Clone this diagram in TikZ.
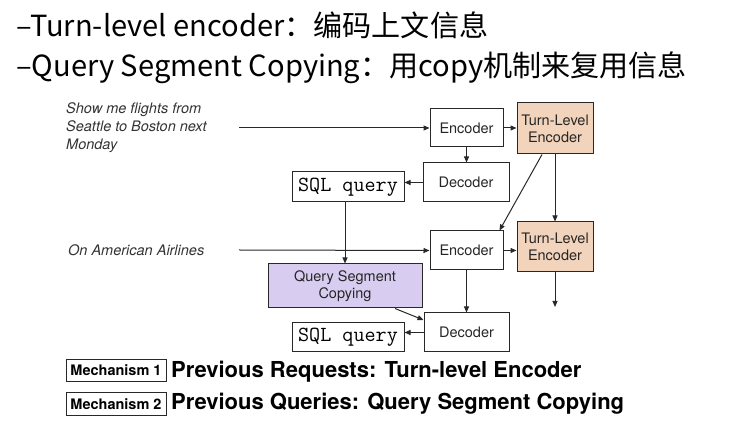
\documentclass[tikz,border=0pt]{standalone}
\usepackage{fontspec}
\setmainfont{TeX Gyre Heros}
\newfontfamily\cjk{Noto Sans CJK SC}
\usetikzlibrary{arrows.meta,calc}
\definecolor{peach}{RGB}{242,211,187}
\definecolor{lav}{RGB}{216,205,240}
\definecolor{edge}{RGB}{40,40,40}
\tikzset{
  box/.style={draw=edge,line width=1pt,inner sep=0pt,align=center,font=\fontsize{14.5}{17}\selectfont,text=black!85},
  sqlbox/.style={draw=edge,line width=1pt,inner sep=0pt,font=\fontsize{21.5}{22}\ttfamily},
  arr/.style={-{Triangle[length=6pt,width=5pt]},line width=1pt,draw=edge},
  said/.style={font=\fontsize{14.5}{18}\selectfont\itshape,align=left,anchor=west,inner sep=0pt,text=black!80},
  head/.style={font=\fontsize{29.1}{30}\cjk,anchor=base west,inner sep=0pt},
  mech/.style={draw=edge,line width=1pt,inner sep=0pt,minimum width=100pt,font=\fontsize{14.5}{15}\bfseries},
  bold/.style={font=\fontsize{22}{23}\bfseries,anchor=west,inner sep=0pt}
}
\begin{document}
\begin{tikzpicture}[x=1pt,y=-1pt]
\useasboundingbox (0,0) rectangle (745,427);
% headings
\node[head] (h1) at (16,37) {–Turn-level encoder：编码上文信息};
\node[head] (h2) at (16,77) {–Query Segment Copying：用copy机制来复用信息};
% utterances
\node[said] (u1) at (66,128) {Show me flights from\\Seattle to Boston next\\Monday};
\node[said] (u2) at (68,250) {On American Airlines};
\coordinate (s1) at (239,128);
\coordinate (s2) at (239,250);
% boxes
\node[box,minimum width=73pt,minimum height=38pt] (enc1) at (466.5,128) {Encoder};
\node[box,fill=peach,minimum width=76pt,minimum height=51pt] (tle1) at (555,128.5) {Turn-Level\\Encoder};
\node[box,minimum width=86pt,minimum height=39pt] (dec1) at (466,182.5) {Decoder};
\node[sqlbox,minimum width=112pt,minimum height=30pt] (sql1) at (348,187) {SQL query};
\node[box,minimum width=73pt,minimum height=39pt] (enc2) at (466.5,250.5) {Encoder};
\node[box,fill=peach,minimum width=76pt,minimum height=50pt] (tle2) at (555,247) {Turn-Level\\Encoder};
\node[box,fill=lav,minimum width=154pt,minimum height=44pt] (qsc) at (345,286) {Query Segment\\Copying};
\node[box,minimum width=85pt,minimum height=39pt] (dec2) at (466.5,332.5) {Decoder};
\node[sqlbox,minimum width=112pt,minimum height=29pt] (sql2) at (348,337.5) {SQL query};
\coordinate (e2) at (555,307);
% connectors
\draw[arr] (s1) -- (enc1.west);
\draw[arr] (enc1.east) -- (enc1.east -| tle1.west);
\draw[arr] (enc1.south) -- (enc1.south |- dec1.north);
\draw[arr] (dec1.west) -- (dec1.west -| sql1.east);
\draw[arr] ([xshift=-13pt]tle1.south) -- ([xshift=33pt]enc2.north);
\draw[arr] (tle1.south) -- (tle2.north);
\draw[arr] (qsc.north |- sql1.south) -- (qsc.north);
\draw[arr] (s2) -- (enc2.west);
\draw[arr] (enc2.east) -- (enc2.east -| tle2.west);
\draw[arr] (enc2.south) -- (enc2.south |- dec2.north);
\draw[arr] ([xshift=50pt]qsc.south) -- ([yshift=12.5pt]dec2.west);
\draw[arr] (dec2.west) -- (dec2.west -| sql2.east);
\draw[arr] (tle2.south) -- (e2);
% mechanisms
\node[mech,minimum height=22pt] (m1) at (116,370.5) {Mechanism 1};
\node[mech,minimum height=23pt] (m2) at (116,404) {Mechanism 2};
\node[bold] (b1) at (171,372) {Previous Requests: Turn-level Encoder};
\node[bold] (b2) at (171,404) {Previous Queries: Query Segment Copying};
\end{tikzpicture}
\end{document}
